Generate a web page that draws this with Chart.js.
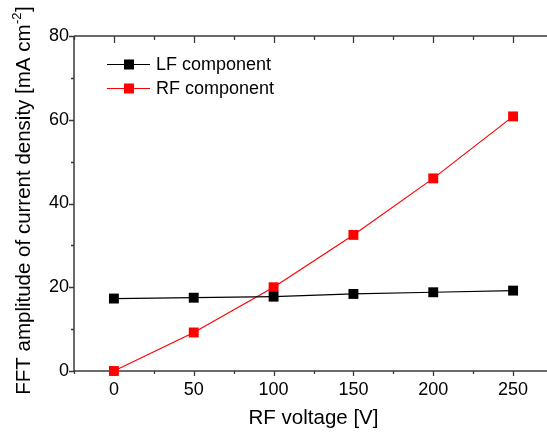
<!DOCTYPE html>
<html>
<head>
<meta charset="utf-8">
<script src="https://cdn.jsdelivr.net/npm/chart.js@4/dist/chart.umd.min.js"></script>
<style>
html,body{margin:0;padding:0;background:#fff;overflow:hidden;}
#wrap{width:560px;height:434px;}
</style>
</head>
<body>
<div id="wrap"><canvas id="c" width="560" height="434"></canvas></div>
<script>
// ---- data ----
const voltages = [0, 50, 100, 150, 200, 250];
const lfValues = [17.3, 17.5, 17.75, 18.4, 18.8, 19.2];
const rfValues = [0, 9.2, 20.0, 32.5, 46.0, 60.8];
const xTicks = [0, 50, 100, 150, 200, 250];
const xMinorTicks = [-25, 25, 75, 125, 175, 225, 275];
const yTicks = [0, 20, 40, 60, 80];
const yMinorTicks = [10, 30, 50, 70];
const seriesNames = ['LF component', 'RF component'];
const xTitle = 'RF voltage [V]';
const yTitleMain = 'FFT amplitude of current density [mA cm';
const yTitleSup = '-2';
const yTitleEnd = ']';

const FONT = '"Liberation Sans", Arial, sans-serif';
const AXIS_COLOR = '#3a3a3a';

const axesPlugin = {
  id: 'axesPlugin',
  beforeDatasetsDraw(chart) {
    const ctx = chart.ctx;
    const a = chart.chartArea;
    const xs = chart.scales.x, ys = chart.scales.y;
    ctx.save();
    ctx.strokeStyle = AXIS_COLOR;
    ctx.lineWidth = 1.5;
    ctx.beginPath();
    // left, bottom, top, right
    ctx.moveTo(a.left, a.top); ctx.lineTo(a.left, a.bottom);
    ctx.moveTo(a.left, a.bottom); ctx.lineTo(a.right, a.bottom);
    ctx.moveTo(a.left, a.top); ctx.lineTo(a.right, a.top);
    ctx.moveTo(a.right, a.top); ctx.lineTo(a.right, a.bottom);
    ctx.stroke();
    ctx.lineWidth = 1.3;
    ctx.beginPath();
    xTicks.forEach(v => {
      const px = Math.round(xs.getPixelForValue(v)) + 0.5;
      ctx.moveTo(px, a.bottom); ctx.lineTo(px, a.bottom + 5);
      ctx.moveTo(px, a.top); ctx.lineTo(px, a.top + 7);
    });
    xMinorTicks.forEach(v => {
      const px = Math.round(xs.getPixelForValue(v)) + 0.5;
      ctx.moveTo(px, a.bottom); ctx.lineTo(px, a.bottom + 3);
      ctx.moveTo(px, a.top); ctx.lineTo(px, a.top + 4);
    });
    yTicks.forEach(v => {
      const py = Math.round(ys.getPixelForValue(v)) + 0.5;
      ctx.moveTo(a.left, py); ctx.lineTo(a.left - 5, py);
    });
    yMinorTicks.forEach(v => {
      const py = Math.round(ys.getPixelForValue(v)) + 0.5;
      ctx.moveTo(a.left, py); ctx.lineTo(a.left - 3, py);
    });
    ctx.stroke();
    ctx.restore();
  },
  afterDraw(chart) {
    const ctx = chart.ctx;
    const a = chart.chartArea;
    ctx.save();
    ctx.fillStyle = '#000';
    // x title
    ctx.font = '20.5px ' + FONT;
    ctx.textAlign = 'center';
    ctx.textBaseline = 'alphabetic';
    ctx.fillText(xTitle, (a.left + a.right) / 2, 424);
    // y title (rotated, with superscript)
    const mainFont = '20.5px ' + FONT;
    const supFont = '13px ' + FONT;
    ctx.font = mainFont;
    const w1 = ctx.measureText(yTitleMain).width;
    const w3 = ctx.measureText(yTitleEnd).width;
    ctx.font = supFont;
    const w2 = ctx.measureText(yTitleSup).width;
    const total = w1 + w2 + w3;
    const cy = 201;
    ctx.translate(30, cy);
    ctx.rotate(-Math.PI / 2);
    ctx.textAlign = 'left';
    let x0 = -total / 2;
    ctx.font = mainFont;
    ctx.fillText(yTitleMain, x0, 0);
    ctx.font = supFont;
    ctx.fillText(yTitleSup, x0 + w1 + 0.5, -9);
    ctx.font = mainFont;
    ctx.fillText(yTitleEnd, x0 + w1 + w2 + 1, 0);
    ctx.restore();

    // legend
    ctx.save();
    const legendYs = [64, 88];
    chart.data.datasets.forEach((ds, i) => {
      const y = legendYs[i];
      ctx.strokeStyle = ds.borderColor;
      ctx.lineWidth = 1.2;
      ctx.beginPath();
      ctx.moveTo(107, y + 0.5); ctx.lineTo(150, y + 0.5);
      ctx.stroke();
      ctx.fillStyle = ds.pointBackgroundColor;
      ctx.fillRect(124, y - 4.5, 10, 10);
      ctx.fillStyle = '#000';
      ctx.font = '18px ' + FONT;
      ctx.textAlign = 'left';
      ctx.textBaseline = 'middle';
      ctx.fillText(ds.label, 156, y + 1);
    });
    ctx.restore();
  }
};

new Chart(document.getElementById('c'), {
  type: 'line',
  data: {
    datasets: [
      {
        label: seriesNames[0],
        data: voltages.map((v, i) => ({x: v, y: lfValues[i]})),
        borderColor: '#000000',
        backgroundColor: '#000000',
        pointBackgroundColor: '#000000',
        pointBorderColor: '#000000',
        borderWidth: 1.2,
        pointStyle: 'rect',
        pointRadius: 7,
        pointBorderWidth: 0,
        tension: 0,
        clip: false
      },
      {
        label: seriesNames[1],
        data: voltages.map((v, i) => ({x: v, y: rfValues[i]})),
        borderColor: '#ff0000',
        backgroundColor: '#ff0000',
        pointBackgroundColor: '#ff0000',
        pointBorderColor: '#ff0000',
        borderWidth: 1.2,
        pointStyle: 'rect',
        pointRadius: 7,
        pointBorderWidth: 0,
        tension: 0,
        clip: false
      }
    ]
  },
  options: {
    responsive: false,
    animation: false,
    layout: {padding: {top: 36, right: 5, left: 0, bottom: 0}},
    plugins: {legend: {display: false}, tooltip: {enabled: false}},
    scales: {
      x: {
        type: 'linear',
        min: -25,
        max: 275,
        afterBuildTicks: s => { s.ticks = xTicks.map(v => ({value: v})); },
        afterFit: s => { s.height = 63; },
        grid: {display: false, drawTicks: false},
        border: {display: false},
        ticks: {
          padding: 8,
          color: '#000',
          font: {family: FONT, size: 18},
          maxRotation: 0
        }
      },
      y: {
        type: 'linear',
        min: 0,
        max: 80,
        afterBuildTicks: s => { s.ticks = yTicks.map(v => ({value: v})); },
        afterFit: s => { s.width = 74; },
        grid: {display: false, drawTicks: false},
        border: {display: false},
        ticks: {
          padding: 5,
          color: '#000',
          font: {family: FONT, size: 18}
        }
      }
    }
  },
  plugins: [axesPlugin]
});
</script>
</body>
</html>
